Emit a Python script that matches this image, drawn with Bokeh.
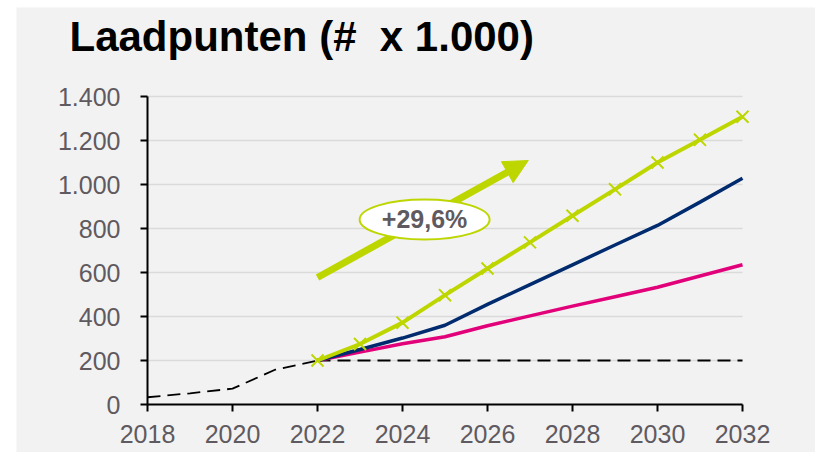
from bokeh.plotting import figure
from bokeh.models import Range1d, FixedTicker, Arrow, NormalHead, Label
from bokeh.core.properties import value
from bokeh.embed import file_html
from bokeh.resources import INLINE

# ---- data ----
hist_years = [2018, 2019, 2020, 2021, 2022]
hist_vals = [33, 51, 72, 158, 200]
flat_years = [2022, 2032]
flat_vals = [200, 200]
years = [2022, 2023, 2024, 2025, 2026, 2027, 2028, 2029, 2030, 2031, 2032]
green_vals = [200, 275, 372, 497, 618, 737, 858, 978, 1100, 1203, 1308]
navy_vals = [200, 250, 302, 360, 455, 545, 635, 725, 814, 920, 1028]
magenta_vals = [200, 238, 276, 308, 358, 403, 447, 490, 533, 584, 635]
x_ticks = [2018, 2020, 2022, 2024, 2026, 2028, 2030, 2032]
y_ticks = [0, 200, 400, 600, 800, 1000, 1200, 1400]
y_tick_labels = ["0", "200", "400", "600", "800", "1.000", "1.200", "1.400"]
growth_label = "+29,6%"
title_text = "Laadpunten (#\u00a0 x 1.000)"

# ---- layout (pixels on the canvas) ----
W, H = 815, 452
PAD_L, PAD_T = 16, 7                 # white strip left / top
AX_L, AX_R, AX_B, AX_T = 147, 742, 404, 96   # plot area edges
TITLE_X, TITLE_BASE = 69, 36

x_lo_v, x_hi_v = x_ticks[0], x_ticks[-1]
y_lo_v, y_hi_v = y_ticks[0], y_ticks[-1]
xpp = (x_hi_v - x_lo_v) / (AX_R - AX_L)
ypp = (y_hi_v - y_lo_v) / (AX_B - AX_T)
x_range = Range1d(x_lo_v - (AX_L - PAD_L) * xpp, x_lo_v + (W - AX_L) * xpp)
y_range = Range1d(y_lo_v - (H - AX_B) * ypp, y_lo_v + (AX_B - PAD_T) * ypp)

# annotation placement
arrow_start = (2022.0, 577)
arrow_end = (2026.96, 1109)
bubble_center = (2024.52, 841)

GREEN = "#BED600"
NAVY = "#002B6E"
MAGENTA = "#E2007A"
GRAY_TXT = "#5F5A60"
BG = "#F2F2F2"
FONT = "Liberation Sans"

p = figure(width=W, height=H, output_backend="svg", toolbar_location=None,
           x_range=x_range, y_range=y_range,
           min_border_left=PAD_L, min_border_right=0, min_border_top=PAD_T, min_border_bottom=0)
p.background_fill_color = BG
p.border_fill_color = "white"
p.outline_line_color = None
p.xgrid.visible = False
p.ygrid.visible = False

p.add_layout(Label(x=x_lo_v + (TITLE_X - AX_L) * xpp, y=y_lo_v + (AX_B - TITLE_BASE) * ypp,
                   text=title_text, text_font=FONT, text_font_size="42px",
                   text_font_style="bold", text_color="black",
                   text_align="left", text_baseline="alphabetic"))

# grid lines drawn from tick values
gy = y_ticks[1:]
p.segment(x0=[x_ticks[0]] * len(gy), x1=[x_ticks[-1]] * len(gy), y0=gy, y1=gy,
          line_color="#DADADA", line_width=1.5, level="underlay")

for ax in (p.xaxis[0], p.yaxis[0]):
    ax.axis_line_color = "black"
    ax.axis_line_width = 2
    ax.major_tick_line_color = "black"
    ax.major_tick_line_width = 2
    ax.major_tick_out = 7
    ax.major_tick_in = 0
    ax.minor_tick_line_color = None
    ax.major_label_text_font = FONT
    ax.major_label_text_font_size = "25px"
    ax.major_label_text_color = GRAY_TXT

p.xaxis.ticker = FixedTicker(ticks=x_ticks)
p.xaxis.bounds = (x_lo_v, x_hi_v)
p.xaxis.fixed_location = y_lo_v
p.xaxis.major_label_standoff = 13
p.yaxis.ticker = FixedTicker(ticks=y_ticks)
p.yaxis.bounds = (y_lo_v, y_hi_v)
p.yaxis.fixed_location = x_lo_v
p.yaxis.major_label_overrides = {t: l for t, l in zip(y_ticks, y_tick_labels)}
p.yaxis.major_label_standoff = 20

# series
p.line(hist_years, hist_vals, line_color="black", line_width=1.8, line_dash="13 7")
p.line(flat_years, flat_vals, line_color="black", line_width=1.8, line_dash="13 7")
p.line(years, magenta_vals, line_color=MAGENTA, line_width=3.5)
p.line(years, navy_vals, line_color=NAVY, line_width=3.5)
p.line(years, green_vals, line_color=GREEN, line_width=4)
p.scatter(years, green_vals, marker="x", size=17, line_color=GREEN, line_width=2)

# growth arrow + bubble
arr = Arrow(x_start=arrow_start[0], y_start=arrow_start[1], x_end=arrow_end[0], y_end=arrow_end[1],
            line_color=GREEN, line_width=7,
            end=NormalHead(size=24, fill_color=GREEN, line_color=GREEN))
arr.level = "underlay"
p.add_layout(arr)
p.ellipse(x=[bubble_center[0]], y=[bubble_center[1]], width=130, height=40,
          width_units="screen", height_units="screen",
          fill_color="white", line_color=GREEN, line_width=2)
p.text(x=[bubble_center[0]], y=[bubble_center[1]], text=[growth_label],
       text_font=value(FONT), text_font_size="25px", text_font_style="bold",
       text_color=GRAY_TXT, text_align="center", text_baseline="middle")

open("out.html", "w").write(file_html(p, INLINE))
